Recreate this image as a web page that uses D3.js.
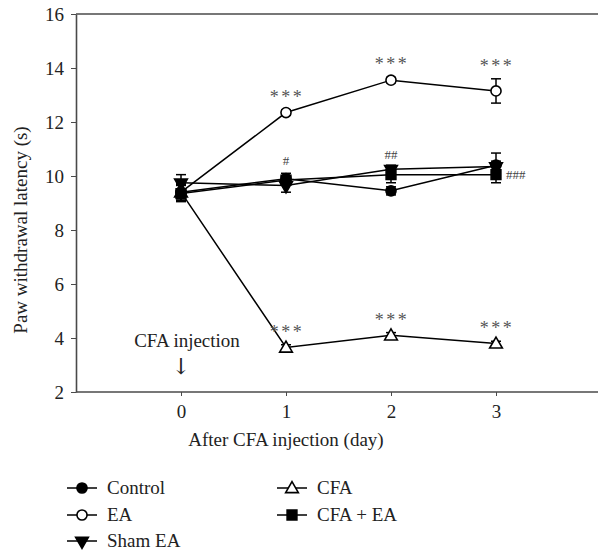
<!DOCTYPE html>
<html>
<head>
<meta charset="utf-8">
<script src="https://cdn.jsdelivr.net/npm/d3@7"></script>
<style>
  body { margin: 0; background: #fff; }
  svg { font-family: "Liberation Serif", "DejaVu Serif", serif; }
</style>
</head>
<body>
<div id="chart"></div>
<script>
const width = 598, height = 552;
const margin = {top: 14, right: 0, bottom: 160, left: 76};

// data: paw withdrawal latency (s) per day after CFA injection
const days = [0, 1, 2, 3];
const control   = [9.4, 9.9, 9.45, 10.4];
const controlErr = [0.3, 0.2, 0.15, 0.45];
const ea        = [9.4, 12.35, 13.55, 13.15];
const eaErr     = [0.3, 0.1, 0.1, 0.45];
const shamEa    = [9.75, 9.65, 10.25, 10.35];
const shamEaErr = [0.3, 0.25, 0.15, 0.2];
const cfa       = [9.4, 3.65, 4.1, 3.8];
const cfaErr    = [0.3, 0.1, 0.1, 0.08];
const cfaEa     = [9.35, 9.85, 10.05, 10.05];
const cfaEaErr  = [0.3, 0.15, 0.3, 0.3];
const yTicks = [2, 4, 6, 8, 10, 12, 14, 16];

const series = [
  {name: 'Control',  vals: control, err: controlErr, shape: 'circle',   fill: '#000'},
  {name: 'EA',       vals: ea,      err: eaErr,      shape: 'circle',   fill: '#fff'},
  {name: 'Sham EA',  vals: shamEa,  err: shamEaErr,  shape: 'tridown',  fill: '#000'},
  {name: 'CFA',      vals: cfa,     err: cfaErr,     shape: 'triup',    fill: '#fff'},
  {name: 'CFA + EA', vals: cfaEa,   err: cfaEaErr,   shape: 'square',   fill: '#000'}
];

// significance marks: [series, day, text]
const marks = [
  ['EA', 1, '***'], ['EA', 2, '***'], ['EA', 3, '***'],
  ['CFA', 1, '***'], ['CFA', 2, '***'], ['CFA', 3, '***']
];
const hashMarks = [[1, '#'], [2, '##']];

const svg = d3.select('#chart').append('svg')
  .attr('width', width).attr('height', height);

const x = d3.scaleLinear().domain([-1, 4]).range([margin.left, 601]);
const y = d3.scaleLinear().domain([2, 16]).range([392, margin.top]);

const axisColor = '#4a4a4a';
const textColor = '#222';
const fs = 19;

// frame top line
svg.append('line')
  .attr('x1', margin.left).attr('x2', width)
  .attr('y1', y(16)).attr('y2', y(16))
  .attr('stroke', axisColor).attr('stroke-width', 1.6);

const gx = svg.append('g')
  .attr('transform', `translate(0,${y(2)})`)
  .call(d3.axisBottom(x).tickValues(days).tickFormat(d3.format('d'))
    .tickSize(4).tickSizeOuter(0).tickPadding(9));
gx.select('.domain').attr('stroke', axisColor).attr('stroke-width', 1.6)
  .attr('d', `M${margin.left},0H${width}`);
gx.selectAll('.tick line').attr('stroke', axisColor);
gx.selectAll('.tick text').attr('font-size', fs).attr('fill', textColor)
  .attr('font-family', '"Liberation Serif", serif');

const gy = svg.append('g')
  .attr('transform', `translate(${margin.left},0)`)
  .call(d3.axisLeft(y).tickValues(yTicks).tickSize(5).tickSizeOuter(0).tickPadding(7));
gy.select('.domain').attr('stroke', axisColor).attr('stroke-width', 1.6);
gy.selectAll('.tick line').attr('stroke', axisColor);
gy.selectAll('.tick text').attr('font-size', fs).attr('fill', textColor)
  .attr('font-family', '"Liberation Serif", serif');

// axis labels
svg.append('text')
  .attr('transform', `translate(27,230) rotate(-90)`)
  .attr('text-anchor', 'middle').attr('font-size', fs).attr('fill', textColor)
  .text('Paw withdrawal latency (s)');

svg.append('text')
  .attr('x', 286).attr('y', 446)
  .attr('text-anchor', 'middle').attr('font-size', fs).attr('fill', textColor)
  .text('After CFA injection (day)');

// CFA injection note
svg.append('text')
  .attr('x', 187).attr('y', 347)
  .attr('text-anchor', 'middle').attr('font-size', fs).attr('fill', textColor)
  .text('CFA injection');
svg.append('text')
  .attr('x', x(0)).attr('y', 374)
  .attr('text-anchor', 'middle').attr('font-size', 22).attr('fill', textColor)
  .attr('font-family', '"DejaVu Serif", serif')
  .text('\u2193');

function symbolPath(shape) {
  if (shape === 'circle') return d3.symbol(d3.symbolCircle, 80)();
  if (shape === 'square') return d3.symbol(d3.symbolSquare, 95)();
  return d3.symbol(d3.symbolTriangle, 70)();
}
function symbolTransform(shape, px, py) {
  let t = `translate(${px},${py})`;
  if (shape === 'tridown') t += ' rotate(180)';
  if (shape === 'triup') t += ' translate(0,1)';
  return t;
}

const line = d3.line().x((d, i) => x(days[i])).y(d => y(d));

// lines
series.forEach(s => {
  svg.append('path')
    .attr('d', line(s.vals))
    .attr('fill', 'none').attr('stroke', '#000').attr('stroke-width', 1.5);
});

// error bars and markers
series.forEach(s => {
  const g = svg.append('g');
  s.vals.forEach((v, i) => {
    const px = x(days[i]);
    const lo = y(v - s.err[i]), hi = y(v + s.err[i]);
    g.append('line').attr('x1', px).attr('x2', px).attr('y1', lo).attr('y2', hi)
      .attr('stroke', '#000').attr('stroke-width', 1.5);
    [lo, hi].forEach(yy => {
      g.append('line').attr('x1', px - 5).attr('x2', px + 5).attr('y1', yy).attr('y2', yy)
        .attr('stroke', '#000').attr('stroke-width', 1.5);
    });
  });
  s.vals.forEach((v, i) => {
    g.append('path')
      .attr('d', symbolPath(s.shape))
      .attr('transform', symbolTransform(s.shape, x(days[i]), y(v)))
      .attr('fill', s.fill).attr('stroke', '#000').attr('stroke-width', 1.6);
  });
});

// significance labels
const byName = Object.fromEntries(series.map(s => [s.name, s]));
marks.forEach(([name, day, txt]) => {
  const s = byName[name];
  const top = s.vals[day] + s.err[day];
  svg.append('text')
    .attr('x', x(day) + 1).attr('y', y(top) - 7)
    .attr('text-anchor', 'middle').attr('font-size', 18).attr('fill', '#555')
    .attr('letter-spacing', 2.5)
    .text(txt);
});
hashMarks.forEach(([day, txt]) => {
  svg.append('text')
    .attr('x', x(day)).attr('y', y(cfaEa[day] + 0.35) - 6)
    .attr('text-anchor', 'middle').attr('font-size', 13).attr('fill', '#444')
    .text(txt);
});
svg.append('text')
  .attr('x', x(3) + 10).attr('y', y(cfaEa[3]) + 4)
  .attr('font-size', 13).attr('fill', '#444')
  .text('###');

// legend
const legendPos = [[67, 488], [67, 515], [67, 541], [277, 488], [277, 515]];
series.forEach((s, i) => {
  const [lx, ly] = legendPos[i];
  const g = svg.append('g').attr('transform', `translate(${lx},${ly})`);
  g.append('line').attr('x1', 0).attr('x2', 30).attr('y1', 0).attr('y2', 0)
    .attr('stroke', '#000').attr('stroke-width', 1.5);
  g.append('path')
    .attr('d', symbolPath(s.shape))
    .attr('transform', symbolTransform(s.shape, 15, 0))
    .attr('fill', s.fill).attr('stroke', '#000').attr('stroke-width', 1.6);
  g.append('text').attr('x', 40).attr('y', 6)
    .attr('font-size', fs).attr('fill', textColor)
    .text(s.name);
});
</script>
</body>
</html>
